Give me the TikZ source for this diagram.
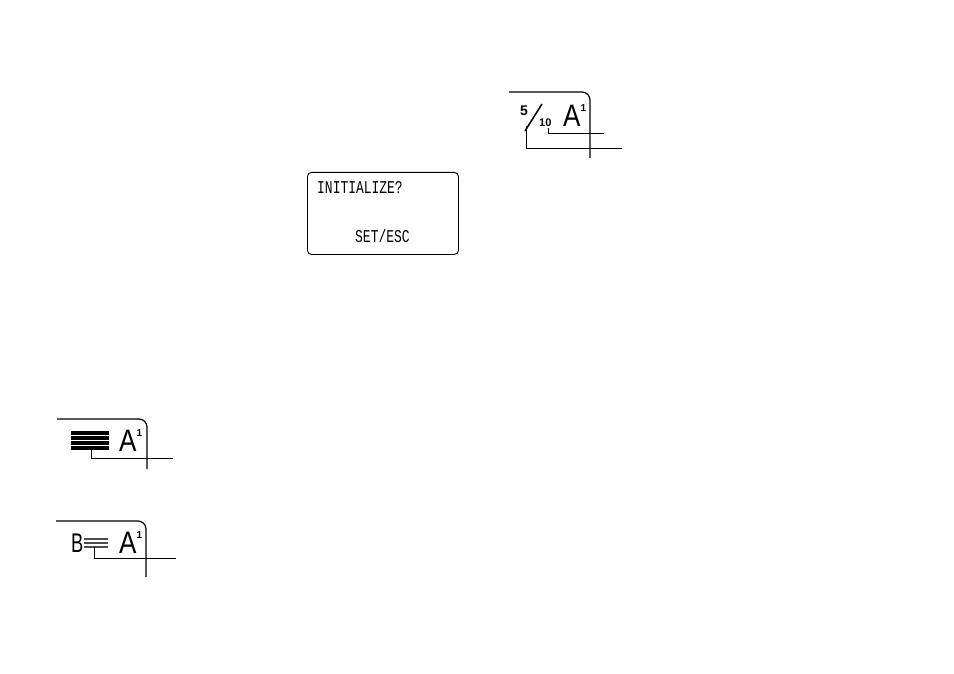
\documentclass[tikz,border=0pt]{standalone}
\usepackage{fontspec}
\setmainfont{Liberation Sans}
\newfontfamily\lcdfont[FakeStretch=0.72]{Liberation Mono}
\newfontfamily\tallfont[FakeStretch=0.84]{Liberation Sans}
\newfontfamily\narrowfont[FakeStretch=0.68]{Liberation Sans}
% letter with its raised digit, kept as one text
\newcommand{\Aone}{A\raisebox{15pt}{\normalfont\bfseries\fontsize{10}{10}\selectfont 1}}
\begin{document}
\begin{tikzpicture}[x=1pt,y=-1pt,
		frame/.style={line width=1.2pt,rounded corners=8pt},
		lead/.style={line width=0.9pt},
		lcdtext/.style={anchor=base west,inner sep=0pt,font=\lcdfont\fontsize{18}{18}\selectfont},
		bigA/.style={anchor=base west,inner sep=0pt,font=\tallfont\fontsize{31}{31}\selectfont}]
	\useasboundingbox (0,0) rectangle (954,674);
	
	% message screen
	\node (screen) [draw,line width=0.9pt,rounded corners=4pt,minimum width=151pt,minimum height=82pt,inner sep=0pt,anchor=north west] at (307,172) {};
	\node (initmsg) [lcdtext] at (317,194) {INITIALIZE?};
	\node (setmsg) [lcdtext] at (355,242) {SET/ESC};
	
	% fraction display, top right
	\coordinate (fracTL) at (509,92);
	\coordinate (fracBR) at (590,158);
	\draw[frame] (fracTL) -| (fracBR);
	\node (five) [anchor=base west,inner sep=0pt,font=\bfseries\fontsize{14}{14}\selectfont] at (520,116) {5};
	\node (ten) [anchor=base west,inner sep=0pt,font=\bfseries\fontsize{11}{11}\selectfont] at (539,127) {10};
	\coordinate (slashlow) at (525,131);
	\coordinate (slashtop) at (542,104);
	\draw[line width=1.5pt] (slashlow) -- (slashtop);
	\node (fracA) [bigA] at (563,127) {\Aone};
	\coordinate (tenfoot) at (548,128);
	\coordinate (tenend) at (604,133);
	\coordinate (fivefoot) at (526,126);
	\coordinate (fiveend) at (622,148);
	\draw[lead] (tenfoot) |- (tenend);
	\draw[lead] (fivefoot) |- (fiveend);
	
	% solid bar display
	\coordinate (solidTL) at (57,419);
	\coordinate (solidBR) at (147,469);
	\draw[frame] (solidTL) -| (solidBR);
	\foreach \y in {433,438,443,448}
		\draw[line width=3.2pt] (71,\y) -- (109,\y);
	\node (solidA) [bigA] at (119,451) {\Aone};
	\coordinate (solidfoot) at (91,449);
	\coordinate (solidend) at (173,458);
	\draw[lead] (solidfoot) |- (solidend);
	
	% thin bar display
	\coordinate (thinTL) at (56,521);
	\coordinate (thinBR) at (146,577);
	\draw[frame] (thinTL) -| (thinBR);
	\node (thinB) [anchor=base west,inner sep=0pt,font=\narrowfont\fontsize{27}{27}\selectfont] at (71,552) {B};
	\foreach \y in {539,543,547}
		\draw[black!70,line width=1.3pt] (84,\y) -- (108,\y);
	\node (thinA) [bigA] at (119,553) {\Aone};
	\coordinate (thinfoot) at (94,547);
	\coordinate (thinend) at (176,558);
	\draw[lead] (thinfoot) |- (thinend);
\end{tikzpicture}
\end{document}
